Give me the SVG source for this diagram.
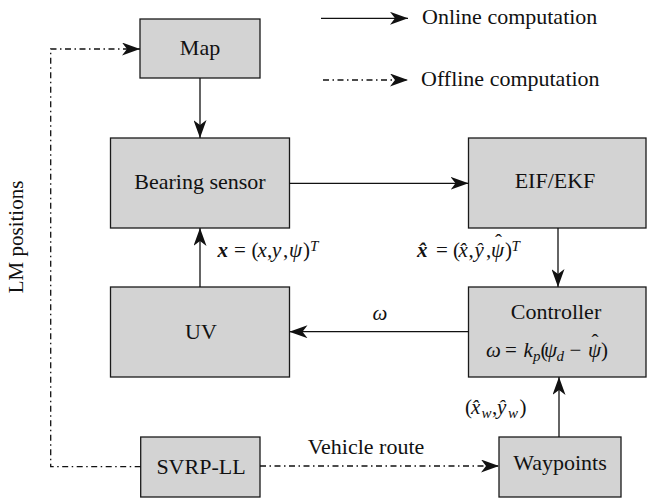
<svg xmlns="http://www.w3.org/2000/svg" width="647" height="498" viewBox="0 0 647 498">
<style>
.box{fill:#d3d3d3;stroke:#1a1a1a;stroke-width:1.3}
.t{font-family:"Liberation Serif","Times New Roman",serif;font-size:22px;fill:#111}
.m{font-family:"Liberation Serif","Times New Roman",serif;font-size:21px;fill:#111}
.i{font-style:italic}
.b{font-weight:bold;font-style:italic}
.sub{font-size:15px}
.ln{fill:none;stroke:#111;stroke-width:1.3}
.dd{fill:none;stroke:#111;stroke-width:1.3;stroke-dasharray:6 3.5 1.5 3.5}
</style>
<defs>
<marker id="ah" markerUnits="userSpaceOnUse" viewBox="0 0 18 13" refX="18" refY="6.5" markerWidth="18" markerHeight="13" orient="auto">
<path d="M0,0 L18,6.5 L0,13 L5,6.5 Z" fill="#111" stroke="none"/>
</marker>
</defs>
<rect width="647" height="498" fill="#fff"/>

<g id="legend">
<line class="ln" x1="321" y1="18.3" x2="408" y2="18.3" marker-end="url(#ah)"/>
<text class="t" x="422" y="23.5">Online computation</text>
<line class="dd" x1="323" y1="80" x2="408" y2="80" marker-end="url(#ah)"/>
<text class="t" x="421" y="86">Offline computation</text>
</g>

<g id="map">
<rect class="box" x="140" y="19" width="120" height="59"/>
<text class="t" x="200" y="54.5" text-anchor="middle">Map</text>
</g>

<g id="bearing-sensor">
<rect class="box" x="110.5" y="138" width="179" height="90"/>
<text class="t" x="200" y="189" text-anchor="middle">Bearing sensor</text>
</g>

<g id="eif-ekf">
<rect class="box" x="468.5" y="138" width="177.5" height="90"/>
<text class="t" x="555" y="187.5" text-anchor="middle">EIF/EKF</text>
</g>

<g id="uv">
<rect class="box" x="110.5" y="287" width="179" height="90"/>
<text class="t" x="201" y="339" text-anchor="middle">UV</text>
</g>

<g id="controller">
<rect class="box" x="468.5" y="287" width="177.5" height="90"/>
<text class="t" x="556" y="318.5" text-anchor="middle">Controller</text>
<text class="m" y="357"><tspan class="i" x="486">ω</tspan><tspan x="505">=</tspan><tspan class="i" x="523.5">k</tspan><tspan class="sub i" x="533" y="361">p</tspan><tspan x="540.5" y="357">(</tspan><tspan class="i" x="544">ψ</tspan><tspan class="sub i" x="556.5" y="361">d</tspan><tspan x="569.5" y="357">−</tspan><tspan class="i" x="588">ψ</tspan><tspan x="601">)</tspan><tspan x="591.5" y="349">ˆ</tspan></text>
</g>

<g id="svrp-ll">
<rect class="box" x="140.7" y="437" width="119.3" height="60"/>
<text class="t" x="201" y="474" text-anchor="middle">SVRP-LL</text>
</g>

<g id="waypoints">
<rect class="box" x="499" y="437" width="122" height="60"/>
<text class="t" x="560" y="470" text-anchor="middle">Waypoints</text>
</g>

<g id="connectors">
<line class="ln" x1="200" y1="78" x2="200" y2="138" marker-end="url(#ah)"/>
<line class="ln" x1="289.5" y1="183.3" x2="468.5" y2="183.3" marker-end="url(#ah)"/>
<line class="ln" x1="558" y1="228" x2="558" y2="287" marker-end="url(#ah)"/>
<line class="ln" x1="468.5" y1="331.7" x2="289.5" y2="331.7" marker-end="url(#ah)"/>
<line class="ln" x1="200" y1="287" x2="200" y2="228" marker-end="url(#ah)"/>
<line class="ln" x1="559" y1="437" x2="559" y2="377" marker-end="url(#ah)"/>
<line class="dd" x1="260" y1="466" x2="499" y2="466" marker-end="url(#ah)"/>
<path class="dd" d="M140.7,466.7 H50.7 V49 H140" marker-end="url(#ah)"/>
<text class="m" y="257"><tspan class="b" x="217.5">x</tspan><tspan x="234">=</tspan><tspan x="251.5">(</tspan><tspan class="i" x="257.5">x</tspan><tspan x="267">,</tspan><tspan class="i" x="272">y</tspan><tspan x="283">,</tspan><tspan class="i" x="289">ψ</tspan><tspan x="303">)</tspan><tspan class="sub i" x="310" y="251">T</tspan></text>
<text class="m" y="257"><tspan class="b" x="417">x̂</tspan><tspan x="436">=</tspan><tspan x="453">(</tspan><tspan class="i" x="458.5">x̂</tspan><tspan x="468.5">,</tspan><tspan class="i" x="474.5">ŷ</tspan><tspan x="486">,</tspan><tspan class="i" x="491">ψ</tspan><tspan x="505">)</tspan><tspan class="sub i" x="511.5" y="251">T</tspan><tspan x="495" y="249">ˆ</tspan></text>
<text class="m i" x="380" y="320" text-anchor="middle">ω</text>
<text class="m" y="414"><tspan x="465">(</tspan><tspan class="i" x="471">x̂</tspan><tspan class="sub i" x="481.5" y="418">w</tspan><tspan x="492" y="414">,</tspan><tspan class="i" x="497">ŷ</tspan><tspan class="sub i" x="508" y="418">w</tspan><tspan x="519.5" y="414">)</tspan></text>
<text class="t" x="366" y="454" text-anchor="middle">Vehicle route</text>
<text class="t" x="0" y="0" transform="translate(23,237) rotate(-90)" text-anchor="middle" style="font-size:21px">LM positions</text>
</g>
</svg>
